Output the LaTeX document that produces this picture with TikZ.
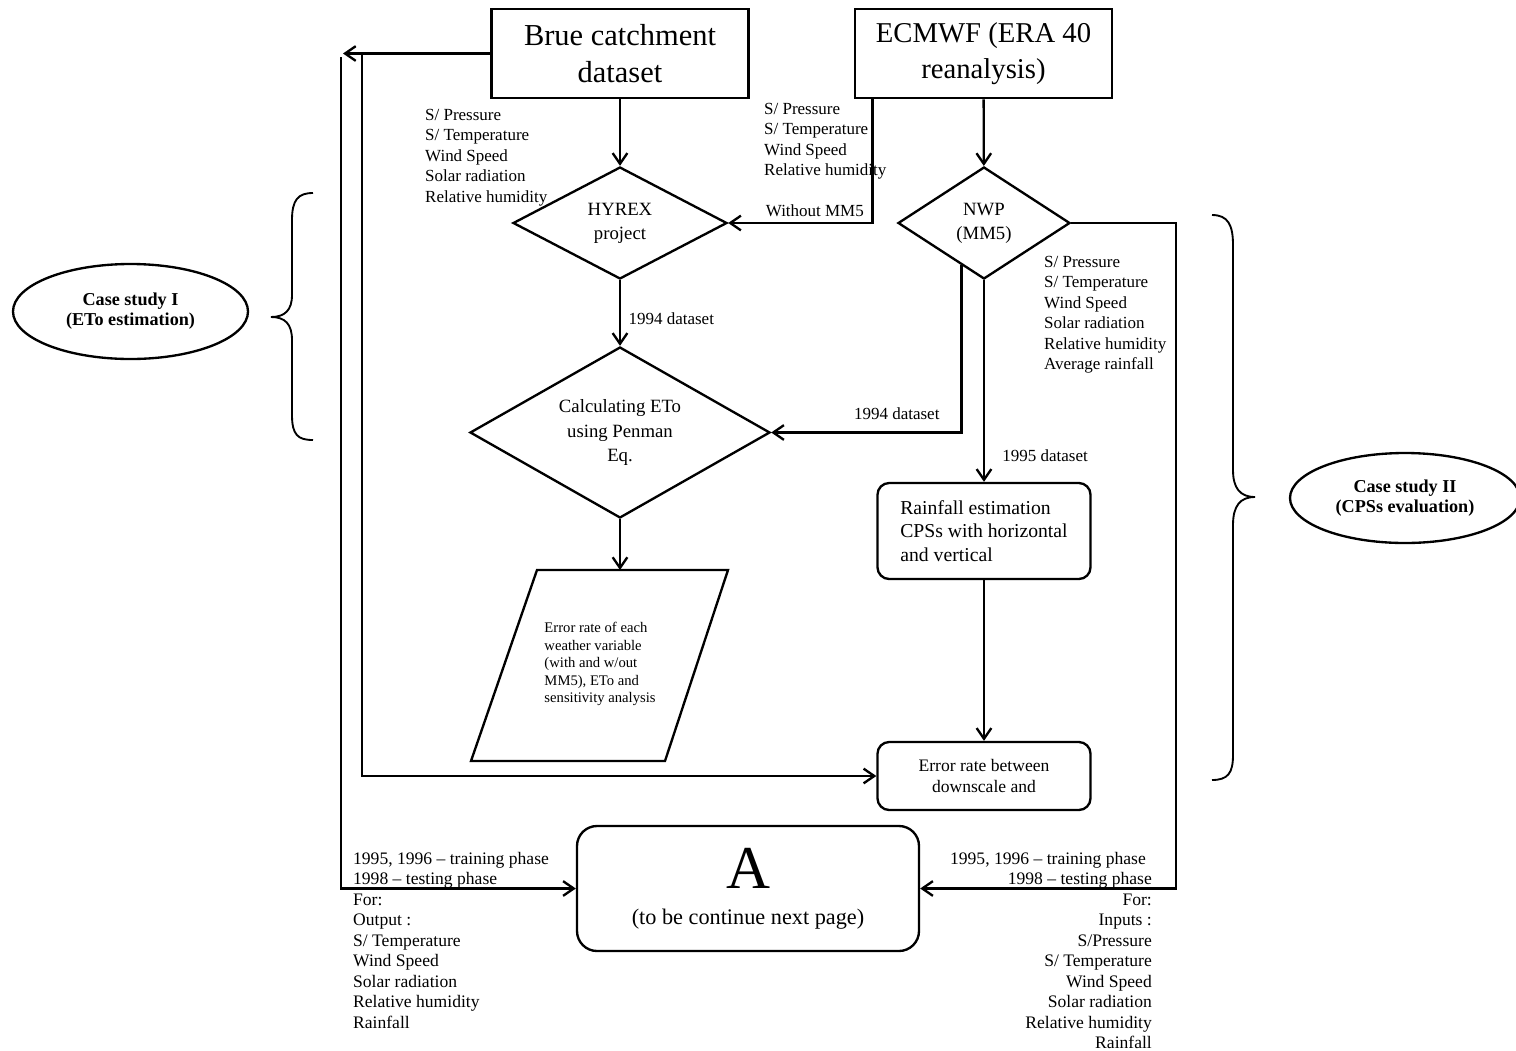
\documentclass[tikz,border=0pt]{standalone}
\usepackage{fontspec}
\setmainfont{Liberation Serif}
\usetikzlibrary{shapes.geometric,arrows.meta}

\begin{document}
\begin{tikzpicture}[x=0.3mm, y=-0.3mm, line width=2pt,
  >={Straight Barb[length=3.2mm,width=4.4mm]},
  titlebox/.style = {draw, line width=2.3pt, minimum width=77.1mm, minimum height=26.7mm, align=center, font=\fontsize{26}{31}\selectfont},
  decision/.style = {draw, diamond, inner sep=0pt, align=center, font=\fontsize{16}{20.5}\selectfont},
  roundbox/.style = {draw, rounded corners=3.5mm, minimum width=63.9mm},
  casestudy/.style = {draw, ellipse, inner sep=0pt, align=center, font=\fontsize{15.5}{17}\selectfont\bfseries},
  varlist/.style = {inner sep=0pt, align=left, font=\fontsize{14.5}{17.5}\selectfont},
  lbl/.style = {font=\fontsize{14.5}{17}\selectfont}]
\useasboundingbox (0,0) rectangle (1516,1050);
\node[titlebox] (brue) at (620,53.5) {Brue catchment\\dataset};
\node[titlebox, font=\fontsize{24.5}{31}\selectfont] (ecmwf) at (983.5,53.5) {ECMWF (ERA 40\\reanalysis)};
\node[decision, minimum width=64.2mm, minimum height=33.6mm] (hyrex) at (620,223) {HYREX\\project};
\node[decision, minimum width=51.6mm, minimum height=33.6mm] (nwp) at (984,223) {NWP\\(MM5)};
\node[decision, minimum width=90mm, minimum height=51.3mm, aspect=1.75] (calc) at (620,432.5) {Calculating ETo\\using Penman\\Eq.};
\node[roundbox, minimum height=28.8mm, align=left, font=\fontsize{16.8}{20}\selectfont] (rain) at (984,531) {Rainfall estimation\\CPSs with horizontal\\and vertical};
\node[roundbox, minimum height=20.4mm, align=center, font=\fontsize{15}{18}\selectfont] (err) at (984,776) {Error rate between\\downscale and};
\node[draw, rounded corners=6mm, minimum width=102.6mm, minimum height=37.5mm, align=center, font=\fontsize{19}{31}\selectfont] (contA) at (748,888.5) {{\fontsize{52}{52}\selectfont A}\\(to be continue next page)};
\node[casestudy, minimum width=70.5mm, minimum height=28.5mm] (caseI) at (130.5,311.5) {Case study I\\(ETo estimation)};
\node[casestudy, minimum width=69mm, minimum height=27mm] (caseII) at (1405,498) {Case study II\\(CPSs evaluation)};
\coordinate (paraTop) at (620,570);
\draw (537,570) -- (728,570) -- (665,761) -- (471,761) -- cycle;
\node[align=left, inner sep=0pt, font=\fontsize{12.5}{15}\selectfont] (para) at (600,664) {Error rate of each\\weather variable\\(with and w/out\\MM5), ETo and\\sensitivity analysis};
\node[varlist, anchor=north west] (brueVars) at (424,108) {S/ Pressure\\S/ Temperature\\Wind Speed\\Solar radiation\\Relative humidity};
\node[varlist, anchor=north west] (ecmwfVars) at (763,102) {S/ Pressure\\S/ Temperature\\Wind Speed\\Relative humidity};
\node[varlist, anchor=north west] (nwpVars) at (1043,255) {S/ Pressure\\S/ Temperature\\Wind Speed\\Solar radiation\\Relative humidity\\Average rainfall};
\node[varlist, anchor=north west, font=\fontsize{15}{17.5}\selectfont] (outVars) at (352,851) {1995, 1996 -- training phase\\1998 -- testing phase\\For:\\Output :\\S/ Temperature\\Wind Speed\\Solar radiation\\Relative humidity\\Rainfall};
\node[varlist, anchor=north east, align=right, font=\fontsize{15}{17.5}\selectfont] (inVars) at (1153,851) {1995, 1996 -- training phase\hspace*{1.8mm}\\1998 -- testing phase\\For:\\Inputs :\\S/Pressure\\S/ Temperature\\Wind Speed\\Solar radiation\\Relative humidity\\Rainfall};
\coordinate (nwpR) at (1176,223);
\coordinate (leftTip) at (343,53.5);
\coordinate (outerTop) at (341,57);
\coordinate (innerTop) at (362,53.5);
\draw[->] (brue) -- (hyrex);
\draw[->] (ecmwf) -- (nwp);
\draw[->] ([xshift=5.7mm]ecmwf.south west) |- node[pos=0.7, above=1pt, lbl] {Without MM5} (hyrex.east);
\draw[->] (hyrex) -- node[pos=0.58, right=3pt, lbl] {1994 dataset} (calc);
\draw[->] (nwp.242) |- node[pos=0.67, above=7pt, lbl] {1994 dataset} (calc.east);
\draw[->] (nwp) -- node[pos=0.87, right=4mm, lbl] {1995 dataset} (rain);
\draw[->] (nwp.east) -- (nwpR) |- (contA.east);
\draw[->] (calc) -- (paraTop);
\draw[->] (rain) -- (err);
\draw[->] (brue.west) -- (leftTip);
\draw[->] (outerTop) |- (contA.west);
\draw[->] (innerTop) |- (err.west);
\draw[line width=1.6pt] (313,193) .. controls (298,193) and (292,200) .. (292,220) -- (292,295) .. controls (292,310) and (285,317) .. (271,317) .. controls (285,317) and (292,324) .. (292,340) -- (292,415) .. controls (292,435) and (298,440) .. (313,440);
\draw[line width=1.6pt] (1212,215) .. controls (1228,215) and (1233,225) .. (1233,245) -- (1233,470) .. controls (1233,488) and (1240,497) .. (1255,497) .. controls (1240,497) and (1233,506) .. (1233,525) -- (1233,755) .. controls (1233,773) and (1228,780) .. (1212,780);
\end{tikzpicture}
\end{document}
